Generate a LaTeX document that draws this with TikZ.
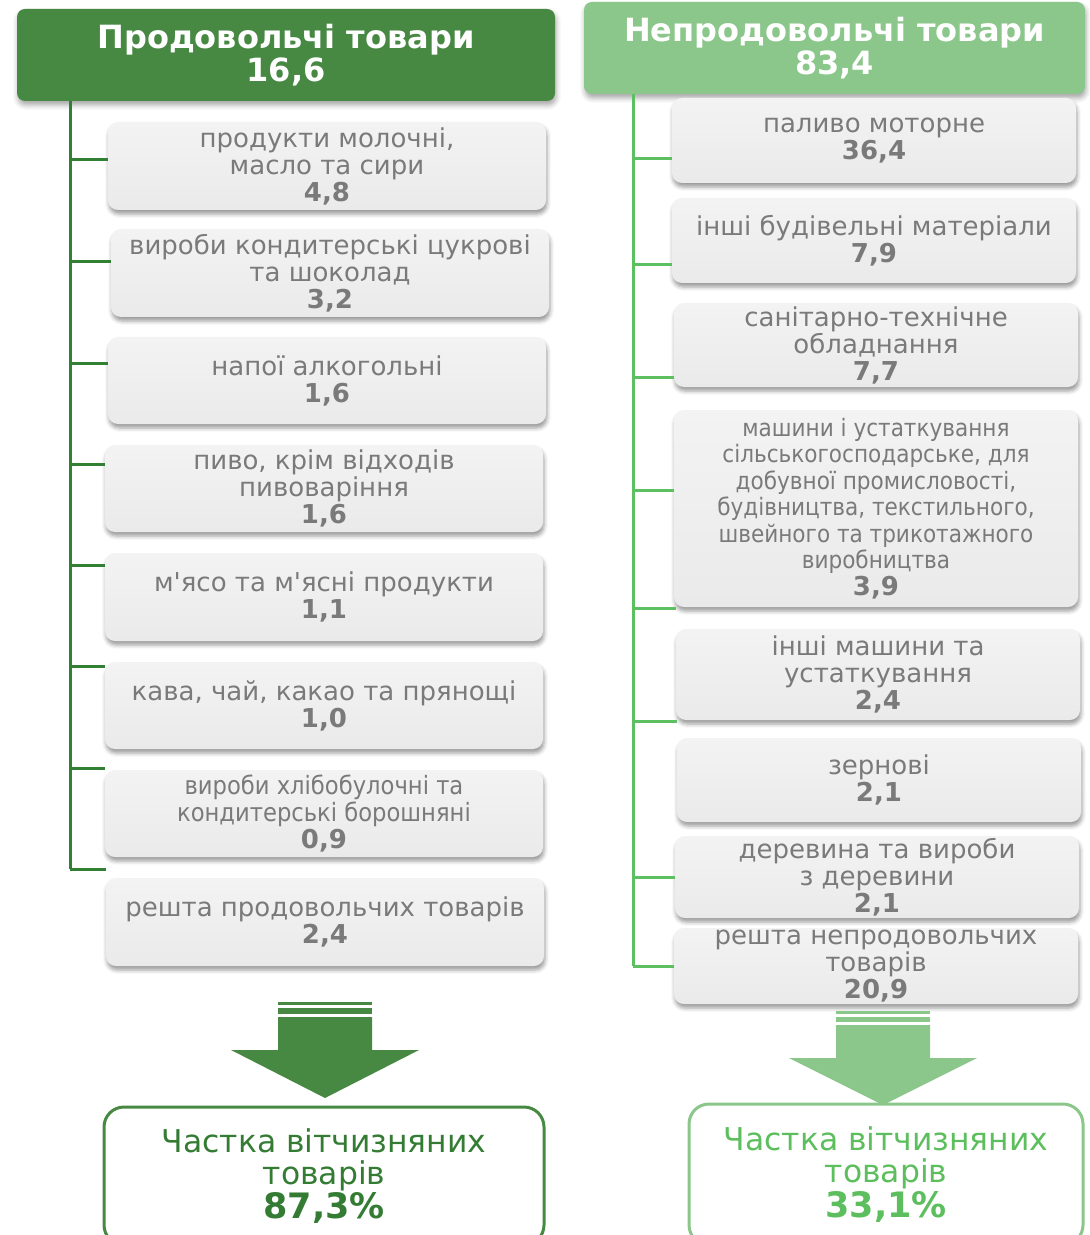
\documentclass[tikz,border=0pt]{standalone}
\usepackage{fontspec}
\setmainfont{DejaVu Sans}[Ligatures=TeXOff]
\newfontfamily\narrowfont{DejaVu Sans Condensed}[Ligatures=TeXOff]
\usepackage{tikz}
\usetikzlibrary{positioning}
\usetikzlibrary{shadows.blur}
\usepackage{xcolor}
\definecolor{darkgrn}{RGB}{71,137,67}
\definecolor{litegrn}{RGB}{139,198,139}
\definecolor{trunkdark}{RGB}{50,128,52}
\definecolor{trunklite}{RGB}{92,191,96}
\definecolor{sharedark}{RGB}{52,124,52}
\definecolor{sharelite}{RGB}{92,190,92}
\definecolor{boxtop}{RGB}{243,243,243}
\definecolor{boxbot}{RGB}{234,234,234}
\definecolor{boxtext}{RGB}{122,122,122}

\begin{document}
\begin{tikzpicture}[x=0.5pt, y=-0.5pt,
	head/.style={rounded corners=4pt, minimum height=46pt, text=white, align=center, inner sep=0pt,
		font=\fontsize{16}{16.8}\selectfont\bfseries,
		blur shadow={shadow xshift=0.5pt, shadow yshift=-2pt, shadow blur radius=2.5pt, shadow opacity=35}},
	item/.style={rounded corners=5pt, top color=boxtop, bottom color=boxbot, text=boxtext, align=center, inner sep=0pt,
		font=\fontsize{13}{13.5}\selectfont,
		blur shadow={shadow xshift=0.5pt, shadow yshift=-2pt, shadow blur radius=2pt, shadow opacity=40}},
	lbox/.style={item, minimum width=219pt},
	rbox/.style={item, minimum width=202pt},
	ltrunk/.style={trunkdark, line width=1.5pt},
	rtrunk/.style={trunklite, line width=1.5pt},
	share/.style={fill=white, line width=1.5pt, rounded corners=10pt, align=center, inner sep=0pt,
		font=\fontsize{15.7}{16}\selectfont}
]
	\useasboundingbox (0,0) rectangle (1090,1235);

	\node[head, fill=darkgrn, minimum width=269pt] (lhead) at (286,55) {Продовольчі товари\\16,6};
	\node[head, fill=litegrn, minimum width=250.5pt, minimum height=46pt] (rhead) at (834.5,48) {Непродовольчі товари\\83,4};

	\node[lbox, minimum height=44pt] (lb1) at (327,166) {продукти молочні,\\масло та сири\\\textbf{4,8}};
	\node[lbox, minimum height=44pt] (lb2) at (330,273) {вироби кондитерські цукрові\\та шоколад\\\textbf{3,2}};
	\node[lbox, minimum height=43.5pt] (lb3) at (327,380.5) {напої алкогольні\\\textbf{1,6}};
	\node[lbox, minimum height=43.5pt] (lb4) at (324,488.5) {пиво, крім відходів\\пивоваріння\\\textbf{1,6}};
	\node[lbox, minimum height=44pt] (lb5) at (324,597) {м'ясо та м'ясні продукти\\\textbf{1,1}};
	\node[lbox, minimum height=43.5pt] (lb6) at (324,705.5) {кава, чай, какао та прянощі\\\textbf{1,0}};
	\node[lbox, minimum height=43.5pt] (lb7) at (324,813.5) {{\narrowfont\fontsize{12.6}{13}\selectfont вироби хлібобулочні та}\\{\narrowfont\fontsize{12.6}{13}\selectfont кондитерські борошняні}\\\textbf{0,9}};
	\node[lbox, minimum height=44pt] (lb8) at (325,922) {решта продовольчих товарів\\\textbf{2,4}};

	\node[rbox, minimum height=42.5pt] (rb1) at (874,140.5) {паливо моторне\\\textbf{36,4}};
	\node[rbox, minimum height=42.5pt] (rb2) at (874,240.5) {інші будівельні матеріали\\\textbf{7,9}};
	\node[rbox, minimum height=42pt] (rb3) at (876,345) {санітарно-технічне\\обладнання\\\textbf{7,7}};
	\node[rbox, minimum height=98.5pt, font=\narrowfont\fontsize{12}{13.25}\selectfont] (rb4) at (876,508.5) {машини і устаткування\\сільськогосподарське, для\\добувної промисловості,\\будівництва, текстильного,\\швейного та трикотажного\\виробництва\\{\fontspec{DejaVu Sans}\fontsize{13}{13.25}\selectfont\bfseries 3,9}};
	\node[rbox, minimum height=45.5pt] (rb5) at (878,674.5) {інші машини та\\устаткування\\\textbf{2,4}};
	\node[rbox, minimum height=42pt] (rb6) at (879,780) {зернові\\\textbf{2,1}};
	\node[rbox, minimum height=41pt] (rb7) at (877,877) {деревина та вироби\\з деревини\\\textbf{2,1}};
	\node[rbox, minimum height=38pt] (rb8) at (876,966) {решта непродовольчих\\товарів\\\textbf{20,9}};

	\foreach \i/\y in {1/160,2/262,3/363,4/464,5/565,6/666,7/768,8/869}{
		\coordinate (lt\i) at (70,\y);
		\draw[ltrunk] (lt\i) -- (lt\i -| lb\i.west);
	}
	\draw[ltrunk] (lhead.south -| lt1) -- (lt8);

	\foreach \i/\y in {1/159,2/265,3/377,4/490,5/608,6/721,7/877,8/966}{
		\coordinate (rt\i) at (633,\y);
		\draw[rtrunk] (rt\i) -- (rt\i -| rb\i.west);
	}
	\draw[rtrunk] (rhead.south -| rt1) -- (rt8);

	\fill[darkgrn] (278,1002) rectangle (372,1005);
	\fill[darkgrn] (278,1008) rectangle (372,1014);
	\fill[darkgrn] (278,1017) -- (372,1017) -- (372,1050) -- (419,1050) -- (325,1098) -- (231,1050) -- (278,1050) -- cycle;

	\fill[litegrn] (836,1011) rectangle (930,1014);
	\fill[litegrn] (836,1017) rectangle (930,1022);
	\fill[litegrn] (836,1025) -- (930,1025) -- (930,1058) -- (977,1058) -- (883,1105) -- (789,1058) -- (836,1058) -- cycle;

	\node[share, draw=darkgrn, text=sharedark, minimum width=220pt, minimum height=69pt] (lshare) at (324,1176) {Частка вітчизняних\\товарів\\{\fontsize{17.5}{16}\selectfont\bfseries 87,3\%}};
	\node[share, draw=litegrn, text=sharelite, minimum width=197pt, minimum height=70.5pt] (rshare) at (886,1174.5) {Частка вітчизняних\\товарів\\{\fontsize{17.5}{16}\selectfont\bfseries 33,1\%}};
\end{tikzpicture}
\end{document}
